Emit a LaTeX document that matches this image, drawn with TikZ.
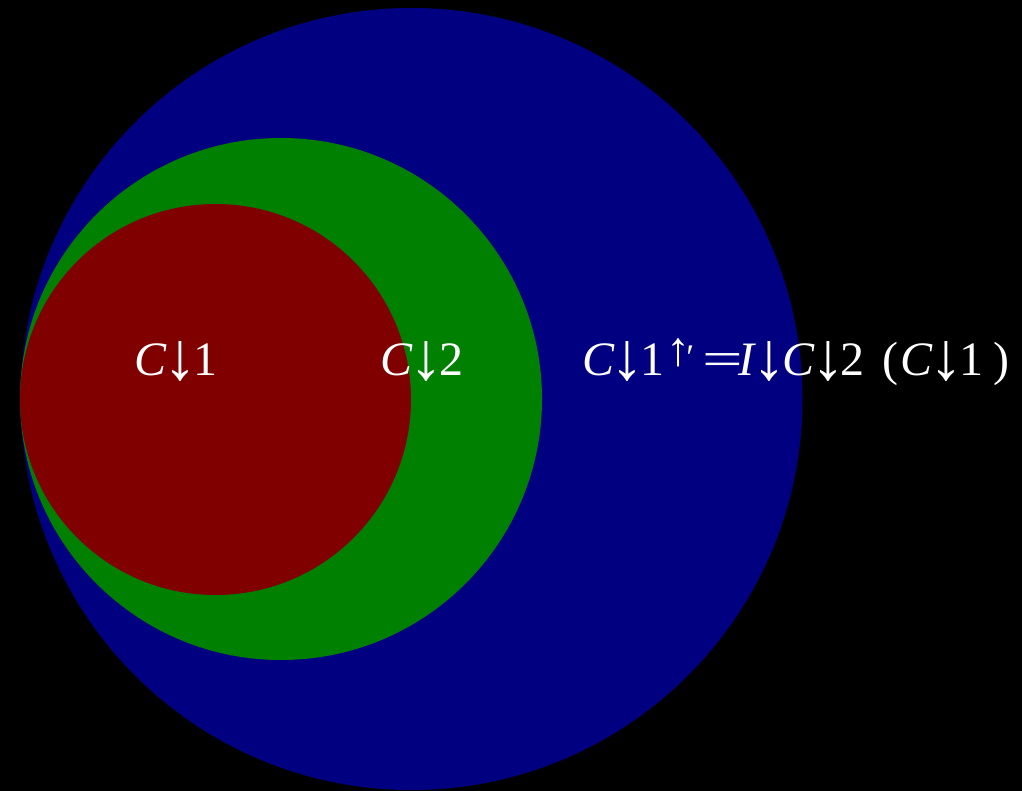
\documentclass[tikz,border=0pt]{standalone}
\usepackage{fontspec}
\setmainfont{Liberation Serif}
\newcommand{\dn}{\kern-4pt\raisebox{-4pt}{\resizebox{!}{38pt}{↓}}\kern-4pt}
\newcommand{\upp}{\kern2pt\raisebox{10pt}{\resizebox{!}{27pt}{↑}}\kern-4pt\raisebox{6pt}{\fontsize{36}{40}\selectfont ′}}
\newcommand{\eqsign}{\scalebox{1.5}[1]{=}}
\begin{document}
\begin{tikzpicture}[x=1pt,y=-1pt,
  disc/.style={circle, inner sep=0pt, outer sep=0pt, draw=none},
  lbl/.style={text=white, font=\fontsize{48}{58}\selectfont, inner sep=0pt, anchor=base}]
\fill[black] (0,0) rectangle (1022,791);
\useasboundingbox (0,0) rectangle (1022,791);
\node[disc, fill={rgb,255:red,0;green,0;blue,128}, minimum size=782pt] (outer) at (411.5,399) {};
\node[disc, fill={rgb,255:red,0;green,128;blue,0}, minimum size=522pt] (middle) at (281,399) {};
\node[disc, fill={rgb,255:red,128;green,0;blue,0}, minimum size=391pt] (inner) at (215.5,399.5) {};
\node[lbl] (c1) at (176,375) {\textit{C}\dn1};
\node[lbl] (c2) at (422,375) {\textit{C}\dn2};
\node[lbl, anchor=base west] (eq) at (582,375) {\textit{C}\dn1\upp\kern8pt\eqsign\kern-4pt\textit{I}\dn\textit{C}\dn2\kern18pt(\kern2pt\textit{C}\dn1\kern10pt)};
\end{tikzpicture}
\end{document}
